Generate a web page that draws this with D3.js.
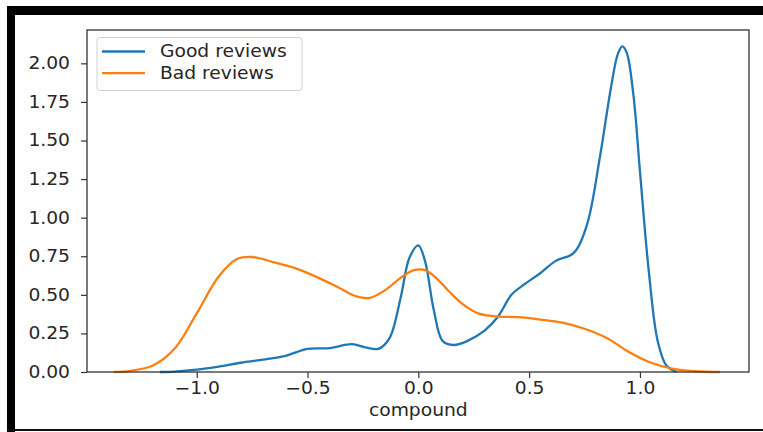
<!DOCTYPE html>
<html>
<head>
<meta charset="utf-8">
<script src="https://cdn.jsdelivr.net/npm/d3@7/dist/d3.min.js"></script>
<style>
  html, body { margin: 0; padding: 0; background: #fff; }
  svg { display: block; }
  text { font-family: "DejaVu Sans", sans-serif; fill: #262626; }
  /* glyphs are drawn slightly wide */
  .wide { transform-box: fill-box; transform: scaleX(1.1); }
  .wide.a-end { transform-origin: right center; }
  .wide.a-mid { transform-origin: center center; }
  .wide.a-start { transform-origin: left center; }
</style>
</head>
<body>
<svg id="chart" width="763" height="432"></svg>
<script>
// KDE of compound sentiment scores, one curve per review group
const goodX = [-1.166, -1.1, -1.0, -0.9, -0.8, -0.7, -0.6, -0.5, -0.4, -0.3, -0.24, -0.18, -0.13, -0.08, -0.04, 0.0, 0.03, 0.07, 0.11, 0.16, 0.22, 0.3, 0.36, 0.42, 0.48, 0.55, 0.62, 0.7, 0.76, 0.82, 0.87, 0.9, 0.92, 0.94, 0.97, 1.0, 1.04, 1.08, 1.12, 1.166];
const goodY = [0.0, 0.003, 0.015, 0.035, 0.06, 0.08, 0.105, 0.15, 0.155, 0.18, 0.16, 0.15, 0.22, 0.48, 0.74, 0.82, 0.72, 0.4, 0.2, 0.175, 0.2, 0.27, 0.36, 0.5, 0.57, 0.64, 0.72, 0.77, 0.95, 1.4, 1.85, 2.06, 2.11, 2.07, 1.8, 1.3, 0.65, 0.2, 0.04, 0.0];

const badX = [-1.374, -1.3, -1.2, -1.1, -1.0, -0.9, -0.82, -0.75, -0.65, -0.55, -0.45, -0.35, -0.28, -0.22, -0.15, -0.08, -0.02, 0.03, 0.08, 0.14, 0.2, 0.27, 0.35, 0.45, 0.55, 0.65, 0.75, 0.85, 0.95, 1.05, 1.15, 1.25, 1.361];
const badY = [0.0, 0.008, 0.04, 0.15, 0.38, 0.62, 0.73, 0.745, 0.71, 0.67, 0.61, 0.54, 0.49, 0.48, 0.53, 0.61, 0.66, 0.66, 0.61, 0.52, 0.44, 0.38, 0.36, 0.355, 0.34, 0.32, 0.28, 0.22, 0.13, 0.06, 0.02, 0.005, 0.0];

const series = [
  { name: "Good reviews", color: "#1f77b4", xs: goodX, ys: goodY },
  { name: "Bad reviews", color: "#ff7f0e", xs: badX, ys: badY }
];

const xTicks = [-1.0, -0.5, 0.0, 0.5, 1.0];
const yTicks = [0.0, 0.25, 0.5, 0.75, 1.0, 1.25, 1.5, 1.75, 2.0];
const xLabel = "compound";

const FS = 17;
const svg = d3.select("#chart");

// outer black frame
svg.append("rect").attr("x", 7).attr("y", 6).attr("width", 756).attr("height", 9).attr("fill", "#000");
svg.append("rect").attr("x", 7).attr("y", 6).attr("width", 8).attr("height", 426).attr("fill", "#000");
svg.append("rect").attr("x", 7).attr("y", 429).attr("width", 756).attr("height", 2).attr("fill", "#111");

const plot = { left: 87, right: 749, top: 30, bottom: 372 };

const x = d3.scaleLinear().domain([-1.495, 1.492]).range([plot.left, plot.right]);
const y = d3.scaleLinear().domain([0, 2.216]).range([plot.bottom, plot.top]);

const fmtX = d => (d < 0 ? "\u2212" : "") + Math.abs(d).toFixed(1);

const xAxis = svg.append("g")
  .attr("transform", `translate(0,${plot.bottom})`)
  .call(d3.axisBottom(x).tickValues(xTicks).tickFormat(fmtX).tickSize(6).tickPadding(4));
const yAxis = svg.append("g")
  .attr("transform", `translate(${plot.left},0)`)
  .call(d3.axisLeft(y).tickValues(yTicks).tickFormat(d3.format(".2f")).tickSize(6).tickPadding(11));

[xAxis, yAxis].forEach(g => {
  g.select(".domain").remove();
  g.selectAll(".tick line").attr("stroke", "#333").attr("stroke-width", 1.2);
  g.selectAll(".tick text").attr("font-size", FS).attr("font-family", "DejaVu Sans, sans-serif").attr("fill", "#262626");
});
xAxis.selectAll(".tick text").attr("class", "wide a-mid");
yAxis.selectAll(".tick text").attr("class", "wide a-end");

// curves
const line = d3.line().curve(d3.curveCatmullRom.alpha(0.5));
series.forEach(s => {
  const pts = s.xs.map((v, i) => [x(v), y(s.ys[i])]);
  svg.append("path")
    .attr("d", line(pts))
    .attr("fill", "none")
    .attr("stroke", s.color)
    .attr("stroke-width", 2.3)
    .attr("stroke-linejoin", "round");
});

// axes frame
svg.append("rect")
  .attr("x", plot.left).attr("y", plot.top)
  .attr("width", plot.right - plot.left).attr("height", plot.bottom - plot.top)
  .attr("fill", "none").attr("stroke", "#333").attr("stroke-width", 1.3);

// x label
svg.append("text")
  .attr("class", "wide a-mid")
  .attr("x", x(0)).attr("y", 416)
  .attr("text-anchor", "middle")
  .attr("font-size", FS)
  .text(xLabel);

// legend
const lg = svg.append("g").attr("transform", "translate(97,37.5)");
lg.append("rect").attr("width", 205).attr("height", 53).attr("rx", 3)
  .attr("fill", "#fff").attr("fill-opacity", 0.8).attr("stroke", "#d0d0d0");
series.forEach((s, i) => {
  const yy = 14 + i * 21.6;
  lg.append("line").attr("x1", 5).attr("x2", 48).attr("y1", yy).attr("y2", yy)
    .attr("stroke", s.color).attr("stroke-width", 2.3);
  lg.append("text").attr("class", "wide a-start")
    .attr("x", 63).attr("y", yy + 6).attr("font-size", FS).text(s.name);
});
</script>
</body>
</html>
